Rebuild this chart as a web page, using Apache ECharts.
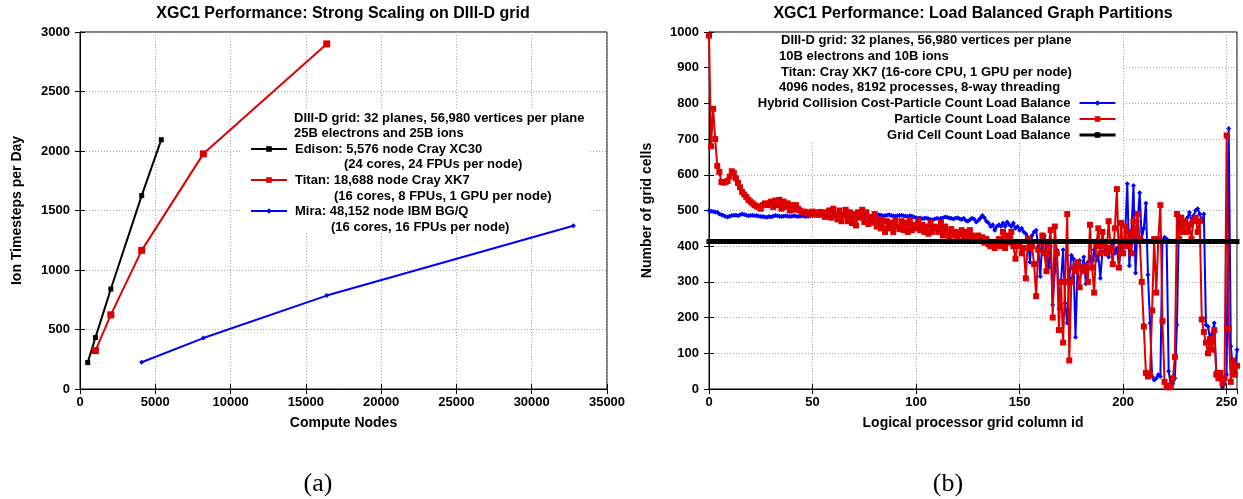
<!DOCTYPE html>
<html><head><meta charset="utf-8">
<script src="https://cdn.jsdelivr.net/npm/echarts@6/dist/echarts.min.js"></script>
<style>html,body{margin:0;padding:0;background:#fff}#c{width:1243px;height:499px}</style>
</head><body><div id="c"></div>
<script>
// ---------- (a) Strong scaling data ----------
const edisonNodes = [512, 1024, 2048, 4096, 5400];
const edisonRate  = [222, 432, 840, 1625, 2095];
const titanNodes  = [1024, 2048, 4096, 8192, 16384];
const titanRate   = [323, 623, 1165, 1976, 2900];
const miraNodes   = [4096, 8192, 16384, 32768];
const miraRate    = [225, 428, 785, 1372];

// ---------- (b) Load balance data (one value per grid column id 0..255) ----------
const hybridCells = [
 500,498,497,496,495,490,488,486,483,482,
 484,486,487,487,485,488,490,489,487,485,
 486,487,485,486,484,483,483,482,481,483,
 482,484,486,485,484,483,484,485,484,483,
 484,485,484,483,484,485,484,483,484,485,
 486,485,487,486,488,489,487,486,484,482,
 483,484,483,482,484,485,483,482,484,485,
 486,485,483,482,484,485,486,484,483,482,
 485,486,488,487,485,486,487,488,486,485,
 484,485,486,487,485,484,483,485,484,482,
 480,478,479,477,478,479,477,475,474,476,
 478,477,478,480,482,481,479,478,476,478,
 480,477,475,478,472,470,474,478,476,468,
 472,478,486,480,470,465,455,460,445,455,
 460,455,465,455,468,460,455,465,450,455,
 445,450,440,435,425,355,430,440,445,400,
 315,420,430,380,340,400,235,330,390,225,
 300,390,240,185,310,375,365,145,340,360,
 330,370,295,355,370,340,390,360,375,310,
 385,385,400,370,390,405,380,395,340,410,
 385,440,575,345,440,570,325,470,550,420,
 450,520,320,185,35,25,30,40,35,415,
 425,420,50,10,15,30,180,485,470,440,
 460,480,495,470,485,500,505,490,470,490,
 180,175,140,155,185,50,40,25,5,15,
 40,730,120,60,50,110
];
const particleCells = [
 990,680,785,700,625,608,580,578,580,583,
 595,610,605,590,577,565,552,545,538,530,
 525,520,515,512,510,505,515,520,515,520,
 525,510,528,515,530,505,525,510,520,500,
 515,502,515,505,500,495,497,492,495,490,
 497,490,495,488,496,490,482,495,500,480,
 505,490,475,500,470,488,502,470,495,465,
 490,458,495,480,502,468,495,462,482,466,
 490,455,475,450,472,440,470,450,465,440,
 472,455,448,470,445,465,440,472,445,460,
 450,470,445,460,440,455,435,465,440,455,
 450,440,465,430,455,440,425,448,430,440,
 420,435,445,420,440,425,445,430,425,420,
 430,415,425,410,420,405,400,410,395,405,
 420,400,440,395,430,410,440,400,365,405,
 400,380,395,310,420,395,400,350,260,390,
 410,430,380,330,400,445,200,455,380,165,
 300,130,300,490,80,300,340,330,355,285,
 340,330,345,300,460,340,270,400,450,380,
 440,400,380,470,395,350,450,560,340,465,
 380,455,400,440,380,470,430,490,420,300,
 175,45,35,40,220,420,270,420,515,190,
 20,5,10,5,30,90,490,420,480,440,
 470,440,460,420,470,480,440,470,195,160,
 130,100,140,110,165,40,30,45,15,30,
 710,170,20,80,40,65
];
const gridCellColumns = [0, 255];
const gridCellCounts  = [413, 413];

const FONT = "'Liberation Sans', Arial, Helvetica, sans-serif";
const RED = '#dd0000', BLUE = '#0000ff', BLACK = '#000000';

const pairs = (xs, ys) => ys.map((v, i) => [xs[i], v]);
const indexed = ys => ys.map((v, i) => [i, v]);

const labelStyle = {color: '#000', fontFamily: FONT, fontWeight: 'bold', fontSize: 13, formatter: v => String(v)};
const nameStyle = {color: '#000', fontFamily: FONT, fontWeight: 'bold', fontSize: 14};
const split = {show: true, lineStyle: {color: '#aaaaaa', type: [1, 2], width: 1}};

function mainX(grid, min, max, interval, name) {
  return {type: 'value', gridIndex: grid, min, max, interval, name, nameLocation: 'middle', nameGap: 27,
    nameTextStyle: nameStyle,
    axisLabel: Object.assign({margin: 7}, labelStyle),
    axisTick: {inside: true, length: 5, lineStyle: {color: '#000'}},
    axisLine: {show: true, lineStyle: {color: '#000', width: 1}},
    splitLine: split};
}
function mainY(grid, min, max, interval, name, gap) {
  return {type: 'value', gridIndex: grid, min, max, interval, name, nameLocation: 'middle', nameGap: gap,
    nameTextStyle: nameStyle,
    axisLabel: Object.assign({margin: 10}, labelStyle),
    axisTick: {inside: true, length: 5, lineStyle: {color: '#000'}},
    axisLine: {show: true, lineStyle: {color: '#000', width: 1}},
    splitLine: split};
}
function mirror(grid, min, max, interval, pos) {
  return {type: 'value', gridIndex: grid, min, max, interval, position: pos,
    axisLabel: {show: false}, axisTick: {inside: true, length: 5, lineStyle: {color: '#000'}},
    axisLine: {show: true, lineStyle: {color: '#000'}}, splitLine: {show: false}};
}

const txt = (text, x, y) => ({type: 'text', x, y, z: 10,
  style: {text, fill: '#000', font: 'bold 13px ' + FONT, textVerticalAlign: 'middle'}});
const ctxt = (text, x, y, font) => ({type: 'text', x, y, z: 10,
  style: {text, fill: '#000', font, textAlign: 'center', textVerticalAlign: 'middle'}});

const option = {
  animation: false,
  backgroundColor: '#fff',
  grid: [
    {left: 80, top: 32, width: 527, height: 357, show: true, borderColor: '#000', borderWidth: 1},
    {left: 709, top: 32, width: 528, height: 357, show: true, borderColor: '#000', borderWidth: 1}
  ],
  xAxis: [
    mainX(0, 0, 35000, 5000, 'Compute Nodes'),
    mainX(1, 0, 255, 50, 'Logical processor grid column id'),
    mirror(0, 0, 35000, 5000, 'top'),
    mirror(1, 0, 255, 50, 'top')
  ],
  yAxis: [
    mainY(0, 0, 3000, 500, 'Ion Timesteps per Day', 56),
    mainY(1, 0, 1000, 100, 'Number of grid cells', 55),
    mirror(0, 0, 3000, 500, 'right'),
    mirror(1, 0, 1000, 100, 'right')
  ],
  legend: [
    {data: ['Edison: 5,576 node Cray XC30', 'Titan: 18,688 node Cray XK7', 'Mira: 48,152 node IBM BG/Q'],
     orient: 'vertical', left: 250, top: 142, padding: 0, itemWidth: 36, itemHeight: 7, itemGap: 17,
     selectedMode: false, textStyle: {color: '#000', fontFamily: FONT, fontWeight: 'bold', fontSize: 13, lineHeight: 14, padding: [0, 0, 0, 3]}},
    {data: ['Hybrid Collision Cost-Particle Count Load Balance', 'Particle Count Load Balance',
            {name: 'Grid Cell Count Load Balance', lineStyle: {width: 3}}],
     orient: 'vertical', align: 'right', right: 126, top: 96, padding: 0, itemWidth: 36, itemHeight: 7, itemGap: 2,
     selectedMode: false, textStyle: {color: '#000', fontFamily: FONT, fontWeight: 'bold', fontSize: 13, lineHeight: 14, padding: [0, 4, 0, 0]}}
  ],
  graphic: {elements: [
    {type: 'rect', z: 1, shape: {x: 242, y: 110, width: 346, height: 123}, style: {fill: '#fff'}, silent: true},
    {type: 'rect', z: 1, shape: {x: 710, y: 33, width: 411, height: 110}, style: {fill: '#fff'}, silent: true},
    ctxt('XGC1 Performance: Strong Scaling on DIII-D grid', 343, 14, 'bold 16px ' + FONT),
    ctxt('XGC1 Performance: Load Balanced Graph Partitions', 973, 14, 'bold 16px ' + FONT),
    txt('DIII-D grid: 32 planes, 56,980 vertices per plane', 294, 118),
    txt('25B electrons and 25B ions', 294, 133),
    txt('(24 cores, 24 FPUs per node)', 344, 164),
    txt('(16 cores, 8 FPUs, 1 GPU per node)', 334, 196),
    txt('(16 cores, 16 FPUs per node)', 331, 227),
    txt('DIII-D grid: 32 planes, 56,980 vertices per plane', 781, 40),
    txt('10B electrons and 10B ions', 779, 56),
    txt('Titan: Cray XK7 (16-core CPU, 1 GPU per node)', 781, 72),
    txt('4096 nodes, 8192 processes, 8-way threading', 779, 87),
    ctxt('(a)', 318, 484, '26px "Liberation Serif", "DejaVu Serif", serif'),
    ctxt('(b)', 948, 484, '26px "Liberation Serif", "DejaVu Serif", serif')
  ]},
  series: [
    {name: 'Edison: 5,576 node Cray XC30', type: 'line', xAxisIndex: 0, yAxisIndex: 0, data: pairs(edisonNodes, edisonRate),
     color: BLACK, lineStyle: {width: 2}, symbol: 'rect', symbolSize: 5, z: 3},
    {name: 'Titan: 18,688 node Cray XK7', type: 'line', xAxisIndex: 0, yAxisIndex: 0, data: pairs(titanNodes, titanRate),
     color: RED, lineStyle: {width: 2}, symbol: 'rect', symbolSize: 7, z: 3},
    {name: 'Mira: 48,152 node IBM BG/Q', type: 'line', xAxisIndex: 0, yAxisIndex: 0, data: pairs(miraNodes, miraRate),
     color: BLUE, lineStyle: {width: 2}, symbol: 'diamond', symbolSize: 5, z: 3},
    {name: 'Hybrid Collision Cost-Particle Count Load Balance', type: 'line', xAxisIndex: 1, yAxisIndex: 1, data: indexed(hybridCells),
     color: BLUE, lineStyle: {width: 2}, symbol: 'diamond', symbolSize: 5, showAllSymbol: true, z: 3},
    {name: 'Particle Count Load Balance', type: 'line', xAxisIndex: 1, yAxisIndex: 1, data: indexed(particleCells),
     color: RED, lineStyle: {width: 2}, symbol: 'rect', symbolSize: 6, showAllSymbol: true, z: 4},
    {name: 'Grid Cell Count Load Balance', type: 'line', xAxisIndex: 1, yAxisIndex: 1, data: pairs(gridCellColumns, gridCellCounts),
     color: BLACK, lineStyle: {width: 5}, symbol: 'rect', symbolSize: 5, z: 5}
  ]
};
const chart = echarts.init(document.getElementById('c'), null, {renderer: 'canvas'});
chart.setOption(option);
</script></body></html>
